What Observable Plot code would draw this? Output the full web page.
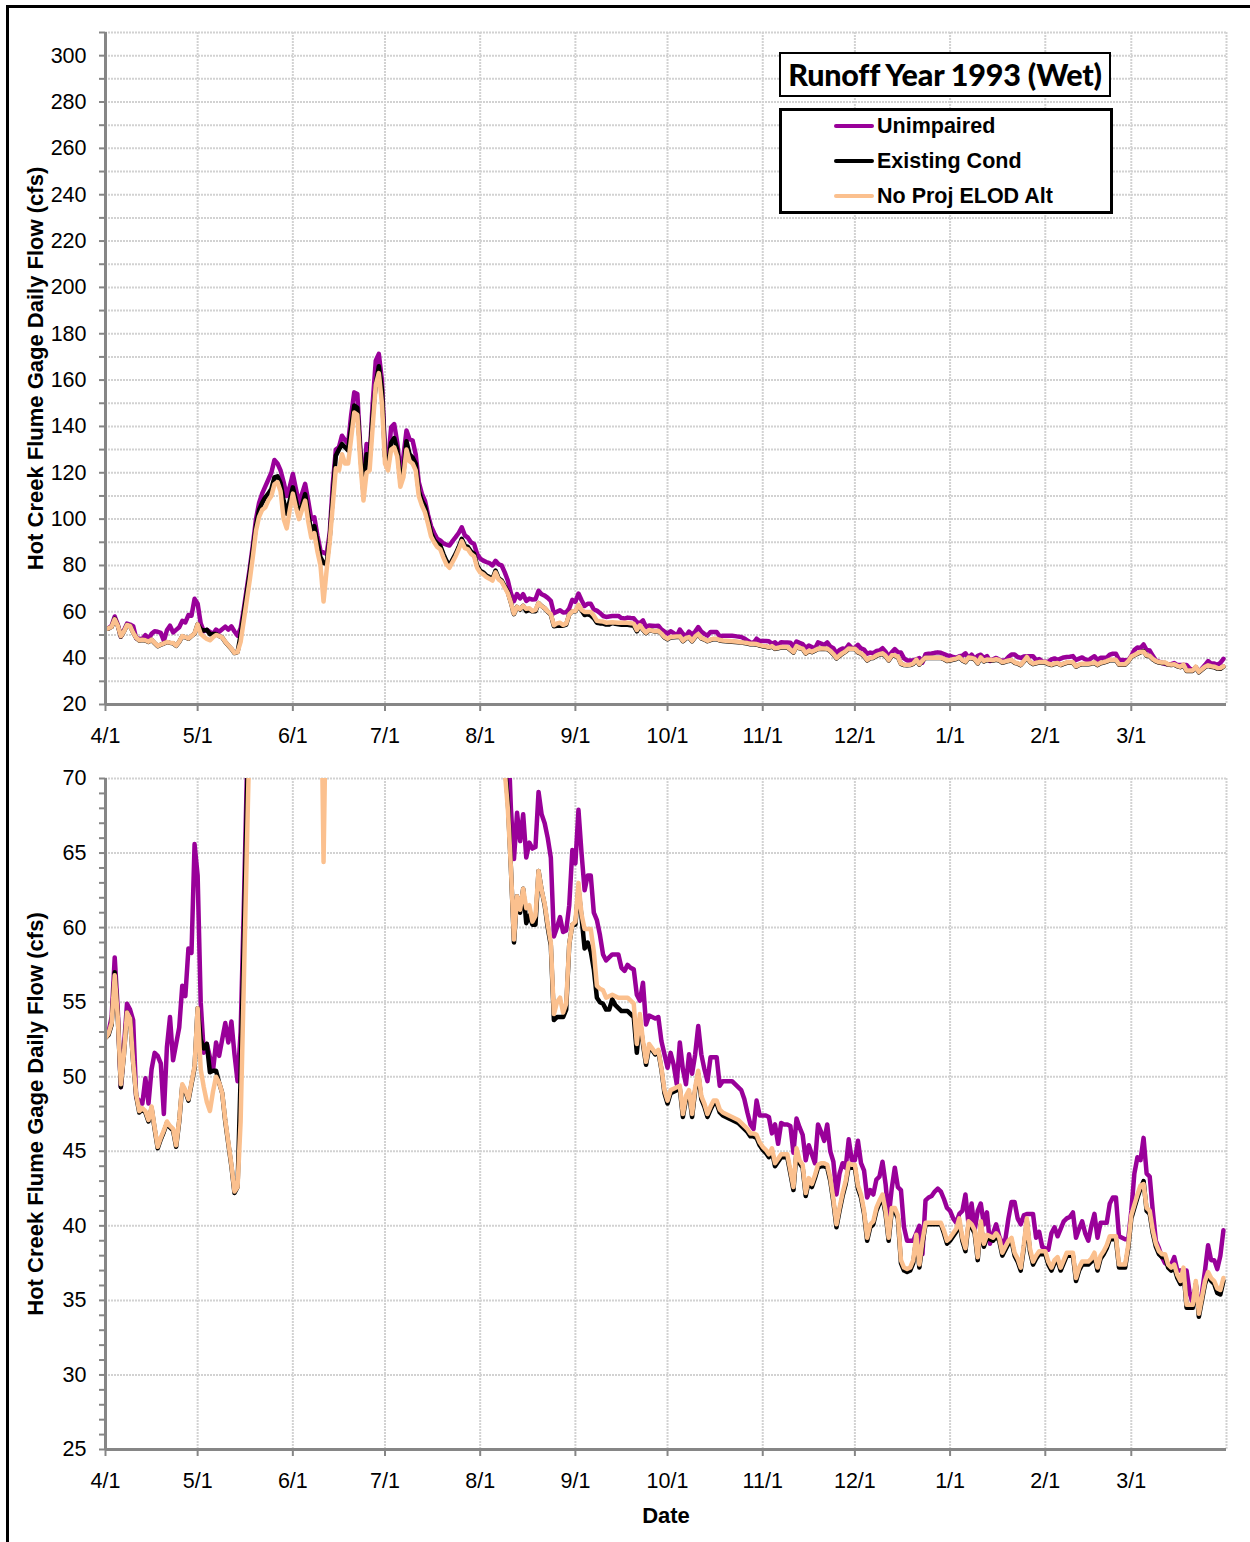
<!DOCTYPE html>
<html>
<head>
<meta charset="utf-8">
<script src="https://cdn.jsdelivr.net/npm/d3@7"></script>
<script src="https://cdn.jsdelivr.net/npm/@observablehq/plot@0.6"></script>
<style>
  body { margin: 0; background: #fff; }
  #wrap { position: relative; width: 1250px; height: 1542px; overflow: hidden; background: #fff;
          font-family: "Liberation Sans", Arial, sans-serif; }
  #frame { position: absolute; left: 6px; top: 5px; width: 1300px; height: 1600px;
           border-top: 3px solid #000; border-left: 3px solid #000; }
  .panel { position: absolute; left: 0; }
  #title { position: absolute; left: 779px; top: 52px; width: 332px; height: 45px; box-sizing: border-box;
           border: 2.5px solid #000; background: #fff; font-family: Lato, "Liberation Sans", sans-serif;
           font-weight: 900; font-size: 30.5px; line-height: 40px; text-align: center; white-space: nowrap;
           letter-spacing: -0.2px; }
  #legend { position: absolute; left: 779px; top: 108px; width: 334px; height: 106px; box-sizing: border-box;
            border: 3px solid #000; background: #fff; }
  .sw { position: absolute; left: 52px; width: 40px; height: 4px; border-radius: 2px; }
  .lt { position: absolute; left: 95px; font-weight: bold; font-size: 21.5px; line-height: 24px; white-space: nowrap; }
</style>
</head>
<body>
<div id="wrap">
  <div id="frame"></div>
  <div id="top" class="panel" style="top:0px"></div>
  <div id="bottom" class="panel" style="top:760px"></div>
  <div id="title"></div>
  <div id="legend"></div>
</div>
<script>
// ---------------- data (daily flow, cfs, 4/1/1993 .. 3/31/1994) ----------------
const startYear = 1993;
const monthLabels = ["4/1","5/1","6/1","7/1","8/1","9/1","10/1","11/1","12/1","1/1","2/1","3/1"];
const seriesNames = ["Unimpaired", "Existing Cond", "No Proj ELOD Alt"];
const seriesColors = ["#990099", "#000000", "#FBC08E"];
const chartTitle = "Runoff Year 1993 (Wet)";
const yTitle = "Hot Creek Flume Gage Daily Flow (cfs)";
const xTitle = "Date";

const unimpaired = [
  // Apr
  52.7,53,54,58,54.5,49.3,52,54.9,54.5,53.8,48.6,48.4,48.2,49.9,48.2,50.5,51.6,51.4,50.9,47.5,52,54,51.1,52.2,53.3,56.1,55.4,58.6,58.3,65.6,
  // May
  63.5,55,51.6,52.2,51.3,50.4,52.3,51.4,52.5,53.6,52.3,53.7,51.5,49.7,53,61,70,79,89,100,107,111,114,117,120,125.5,124,121,116,110,114,
  // Jun
  119.5,113,107,111,115.2,108,100,100.8,93,86.4,85.5,85,94,115,130,131,136,134,132.5,145,154.7,154,130,113,132.4,126.6,150,168.4,171.3,160,
  // Jul
  129,124.5,139.6,141,133,121,127,138.2,134.5,133.9,128,116,111,108,102,97,94,91.5,90.8,89.5,89,88.6,90.5,92.2,94,96.5,93,92,90,89.3,85,
  // Aug
  83,82.1,81.5,81,80,82,80.5,80,77,73.5,68,64.6,67.7,65.8,67.6,64.7,65.7,65.3,65.4,69.1,67.6,67,66,64.7,59.4,60,60.7,59.7,59.8,61.5,65.2,
  // Sep
  64.3,67.9,65,62.5,63.5,63.5,61,60.5,59.5,58.2,57.8,58,58.2,58.2,58.2,57.3,57.1,57.5,57.3,57.2,55.5,55.1,56.3,53.5,54.1,54,53.9,54,52.4,51.5,
  // Oct
  50.6,51.6,50.8,49.5,52.3,50.5,49.5,51.5,50.2,51.5,53.4,51.5,50.5,49.7,51.3,51.3,51.3,49.4,49.7,49.7,49.7,49.7,49.5,49.3,49.1,48.5,47.6,46.8,46.5,48.4,47.4,
  // Nov
  47.4,47.4,47.3,46.2,46.8,45.5,46.9,46.8,46.8,46.7,44.9,47.2,46.6,46.1,44.4,45.4,44.8,44.2,46.8,46.3,45.7,46.8,45,44.3,42.1,43.5,44.2,43.9,45.8,44.4,
  // Dec
  44.4,45.7,44.2,43.7,41.9,42.4,42.1,43.1,43.3,44.3,42.8,40.6,42.5,43.9,42.6,42.4,39.9,39,39,39,39.5,40,38.1,41.7,41.9,42,42.3,42.5,42.3,41.8,41.2,
  // Jan
  41,40.5,40.2,40.8,41,42.1,40.1,41.5,39.7,41,41.5,40.1,40.9,38.8,39.5,40.1,39.3,38.8,39.1,40.5,41.6,41.6,40.5,40.1,40.7,40.8,40.8,40.8,39.2,39.6,38.6,
  // Feb
  38.5,38.4,39.5,39.9,39.3,39.8,40.3,40.5,40.6,40.9,39.2,39.8,40.3,39.5,39,40,40.8,39.2,40.2,40.2,40.2,41.5,41.9,41.9,39.3,39.2,39.1,39.1,
  // Mar
  41,43.5,44.6,44.4,45.9,43.5,43.3,41,39,38.5,37.9,37.5,37.4,37.4,37.9,37,37,37,37,35.5,34.8,36,34.3,35.5,37,38.7,37.7,37.7,37.1,38,39.7
];

const existingCond = [
  // Apr
  52.6,52.8,53.5,57,54,49.3,51.5,54.3,53.9,51,48.7,47.6,47.8,47.6,47,47.9,46.5,45.2,45.8,46.3,46.9,46.6,46.4,45.3,47,49.4,49,48.4,49.5,50.6,
  // May
  54.6,52.5,51.9,52.2,50.3,50.4,50.4,49.6,48.9,47,45.5,44,42.2,42.6,50,59,68,77,87,97,104,107,109.4,111,113,118,118.5,115.5,108,102.3,108,
  // Jun
  113.7,108,102.3,106,110.8,102,95,97,90,83.5,81,80.7,92,110,127.4,130,132.4,131,129.6,140,149,148,128,111,128,126,145,158,166,156,
  // Jul
  127,123,133,135,130,117,120,133.6,128,126.6,124,112,108,105.5,100,94,91,89.5,88.6,85,82,80,82.5,85,88,91.5,88.5,88,86,85,80,
  // Aug
  77.8,77,75.7,75,74.2,77.8,74.5,73.5,71,68.5,64,59,62.1,61,62.6,60.3,60.8,60.2,60.2,63.8,62.5,61.5,60,58.8,53.8,54,54,54,54.5,58.9,60.2,
  // Sep
  60.2,62.6,60.7,58.6,59,58.4,57.2,55.3,55,54.9,54.5,54.5,55.2,54.8,54.6,54.4,54.4,54.4,54.2,54,51.6,53.8,52.2,50.8,52,51.8,51.5,51.7,50.5,48.9,
  // Oct
  48.2,48.9,49,49.1,49.2,47.3,48.5,48.9,47.3,49.1,50.2,48.5,48,47.3,47.8,48.2,48.2,47.6,47.4,47.3,47.2,47.1,47,46.9,46.7,46.5,46.3,46,46,45.9,45.4,
  // Nov
  45.1,44.9,44.6,45,44,44.3,44.6,44.6,44.6,43.5,42.4,45,44.2,43.9,42,43,42.6,43.2,43.9,44,44,43.9,43,41.6,39.9,41,42,42.8,44,43.9,
  // Dec
  43.9,42.5,41.9,40.8,39,39.9,40.1,41,41.5,41.9,40.8,39,41,41,40.5,37.5,37,36.9,37,37.5,39.2,37.2,38.8,40.1,40.1,40.1,40.1,40.1,40.1,39.5,38.8,
  // Jan
  39,39.3,39.6,40.3,39,38.3,40.1,39.9,39.5,37.7,40.1,38.6,39.2,39.1,39,39.3,39,38,38.4,38.8,39,38,37.6,37,38.5,40.3,38.3,37.4,37.8,38.1,38.1,
  // Feb
  38.1,37.4,37,37.5,37.7,37,37.5,38,38,38,36.3,37,37.4,37.4,37.4,37.6,38,37,37.8,38.1,38.5,39.1,39.1,39.1,37.2,37.2,37.2,38.5,
  // Mar
  40.5,41.2,41.9,42.5,43,41,40.8,39.5,38.6,38.1,37.9,37.9,37.2,37,37.2,36.5,36.1,37,34.5,34.5,34.5,36.1,33.9,35,36.1,36.7,36.3,36.1,35.5,35.4,36.3
];

const noProjElodAlt = [
  // Apr
  52.6,52.9,53.6,56.8,54,49.5,51.5,54.3,53.9,51,48.8,47.7,47.9,47.7,47.1,48,46.6,45.3,45.9,46.4,47,46.7,46.5,45.4,47.1,49.5,49.1,48.5,49.6,50.7,
  // May
  54.6,50.5,49.3,48.3,47.7,49,50,49.6,48.9,47.1,45.6,44.1,42.3,42.6,47,56,65,74,84,95,101,104,105,108,110,115,116,112,100,96,104,
  // Jun
  111,105,100,104,108,99,92,94,86,80,64.4,78,90,106,122,121,128,124,124,135,146,145,124,108,120,121,140,158,163,150,
  // Jul
  124,121,130,131,127,114,118,130,125,124,121,110,106,103,98,92.5,90,88,87,83.5,80.5,79,81.5,84,87,90.5,87.5,87,85,84,79,
  // Aug
  77,76.2,75,74.3,73.5,77,74,73,70.5,68,64,59.2,62.1,61.2,62.6,61.3,61.5,60.4,60.8,63.8,62.5,61.6,60.2,59,54.2,55,55.3,54.3,54.9,58.9,60.2,
  // Sep
  60.4,63,60.9,59.9,59.9,59.9,58.4,56.1,55.9,55.8,55.3,55.4,55.5,55.4,55.3,55.3,55.3,55.3,55.1,54.9,52.2,54.2,52.4,51,52.2,51.9,51.6,51.8,50.6,49.1,
  // Oct
  48.4,49.1,49.2,49.3,49.4,47.5,48.7,49.1,47.5,49.3,50.4,48.7,48.2,47.5,48,48.4,48.4,47.8,47.6,47.5,47.4,47.3,47.2,47.1,46.9,46.7,46.5,46.2,46.2,46.1,45.6,
  // Nov
  45.3,45.1,44.8,45.2,44.2,44.5,44.8,44.8,44.8,43.7,42.6,45.2,44.4,44.1,42.2,43.2,42.8,43.4,44.1,44.2,44.2,44.1,43.2,41.8,40.1,41.2,42.2,43,44.2,44.1,
  // Dec
  44.1,42.7,42.1,41,39.2,40.1,40.3,41.2,41.7,42.1,41,39.2,41.2,41.2,40.7,37.7,37.2,37.1,37.2,37.7,39.4,37.4,39,40.2,40.2,40.2,40.2,40.2,40.2,39.7,39,
  // Jan
  39.2,39.5,39.8,40.5,39.2,38.5,40.3,40.1,39.7,37.9,40.3,38.8,39.4,39.3,39.2,39.5,39.2,38.2,38.6,39,39.2,38.2,37.8,37.2,38.7,40.5,38.5,37.6,38,38.3,38.3,
  // Feb
  38.3,37.6,37.2,37.7,37.9,37.2,37.7,38.2,38.2,38.2,36.5,37.2,37.6,37.6,37.6,37.8,38.2,37.2,38,38.3,38.7,39.3,39.3,39.3,37.4,37.4,37.4,38.7,
  // Mar
  40.7,41.4,42.1,42.7,42.8,41.2,41,39.7,38.8,38.3,38.1,38.1,37.4,37.2,37.4,36.7,36.3,37.2,34.7,34.7,34.7,36.3,34.1,35.2,36.3,36.9,36.5,36.3,35.8,35.7,36.5
];

// ---------------- build ----------------
const allSeries = [unimpaired, existingCond, noProjElodAlt];
const dayDate = i => new Date(Date.UTC(startYear, 3, 1 + i));
const tables = allSeries.map(arr => arr.map((v, i) => ({date: dayDate(i), value: v})));
const monthTicks = monthLabels.map((s, i) => new Date(Date.UTC(startYear, 3 + i, 1)));
const xStart = new Date(Date.UTC(startYear, 3, 1));
const xEnd = new Date(Date.UTC(startYear + 1, 3, 1));
const labelOf = d => monthLabels[monthTicks.findIndex(t => +t === +d)] ?? "";

const gridStyle = {stroke: "#d2d2d2", strokeOpacity: 1, strokeWidth: 2, strokeDasharray: "2,1"};
const axisGray = "#868686";
const narrow = "'Liberation Sans Narrow', 'Liberation Sans', Arial, sans-serif";
const regular = "'Liberation Sans', Arial, sans-serif";

function panel({yDomain, gridVals, tickVals, labelVals, height, marginTop, marginBottom, showXTitle}) {
  const marks = [
    Plot.gridY(gridVals, gridStyle),
    Plot.gridX([...monthTicks, xEnd], gridStyle),
  ];
  tables.forEach((t, k) => {
    marks.push(Plot.line(t, {x: "date", y: "value", stroke: seriesColors[k], strokeWidth: 4.5,
      strokeLinejoin: "round", strokeLinecap: "round", clip: true}));
  });
  marks.push(
    Plot.ruleX([xStart], {stroke: axisGray, strokeWidth: 3}),
    Plot.ruleY([yDomain[0]], {stroke: axisGray, strokeWidth: 3}),
    Plot.axisY({ticks: tickVals, tickSize: 6, tickFormat: () => "", stroke: axisGray, strokeWidth: 2, label: null}),
    Plot.axisY({ticks: labelVals, tickSize: 0, tickPadding: 19, fontSize: 21.5, fontFamily: regular, fill: "#000", label: null}),
    Plot.axisX({ticks: monthTicks, tickSize: 7, tickPadding: 16, tickFormat: labelOf, fontSize: 21.5,
      fontFamily: narrow, stroke: axisGray, strokeWidth: 2, fill: "#000", label: null}),
    Plot.text([yTitle], {frameAnchor: "left", rotate: -90, dx: -70, fontSize: 22, fontWeight: "bold",
      fontFamily: regular, fill: "#000", textAnchor: "middle"})
  );
  if (showXTitle) {
    marks.push(Plot.text([xTitle], {frameAnchor: "bottom", dy: 73, fontSize: 22, fontWeight: "bold",
      fontFamily: narrow, fill: "#000"}));
  }
  return Plot.plot({
    width: 1250, height, marginLeft: 105, marginRight: 24, marginTop, marginBottom,
    style: {background: "transparent", overflow: "visible"},
    x: {type: "utc", domain: [xStart, xEnd]},
    y: {domain: yDomain},
    marks
  });
}

document.getElementById("top").appendChild(panel({
  yDomain: [20, 310], gridVals: d3.range(20, 311, 10), tickVals: d3.range(20, 311, 10),
  labelVals: d3.range(20, 301, 20), height: 760, marginTop: 32, marginBottom: 56, showXTitle: false
}));
document.getElementById("bottom").appendChild(panel({
  yDomain: [25, 70], gridVals: d3.range(25, 71, 5), tickVals: d3.range(25, 71, 1),
  labelVals: d3.range(25, 71, 5), height: 782, marginTop: 18, marginBottom: 93, showXTitle: true
}));

// legend
document.getElementById("title").textContent = chartTitle;
const lg = document.getElementById("legend");
const rowY = [15, 50, 85];
seriesNames.forEach((name, k) => {
  const sw = document.createElement("div");
  sw.className = "sw"; sw.style.top = (rowY[k] - 2) + "px"; sw.style.background = seriesColors[k];
  lg.appendChild(sw);
  const t = document.createElement("div");
  t.className = "lt"; t.style.top = (rowY[k] - 12) + "px"; t.textContent = name;
  lg.appendChild(t);
});
</script>
</body>
</html>
